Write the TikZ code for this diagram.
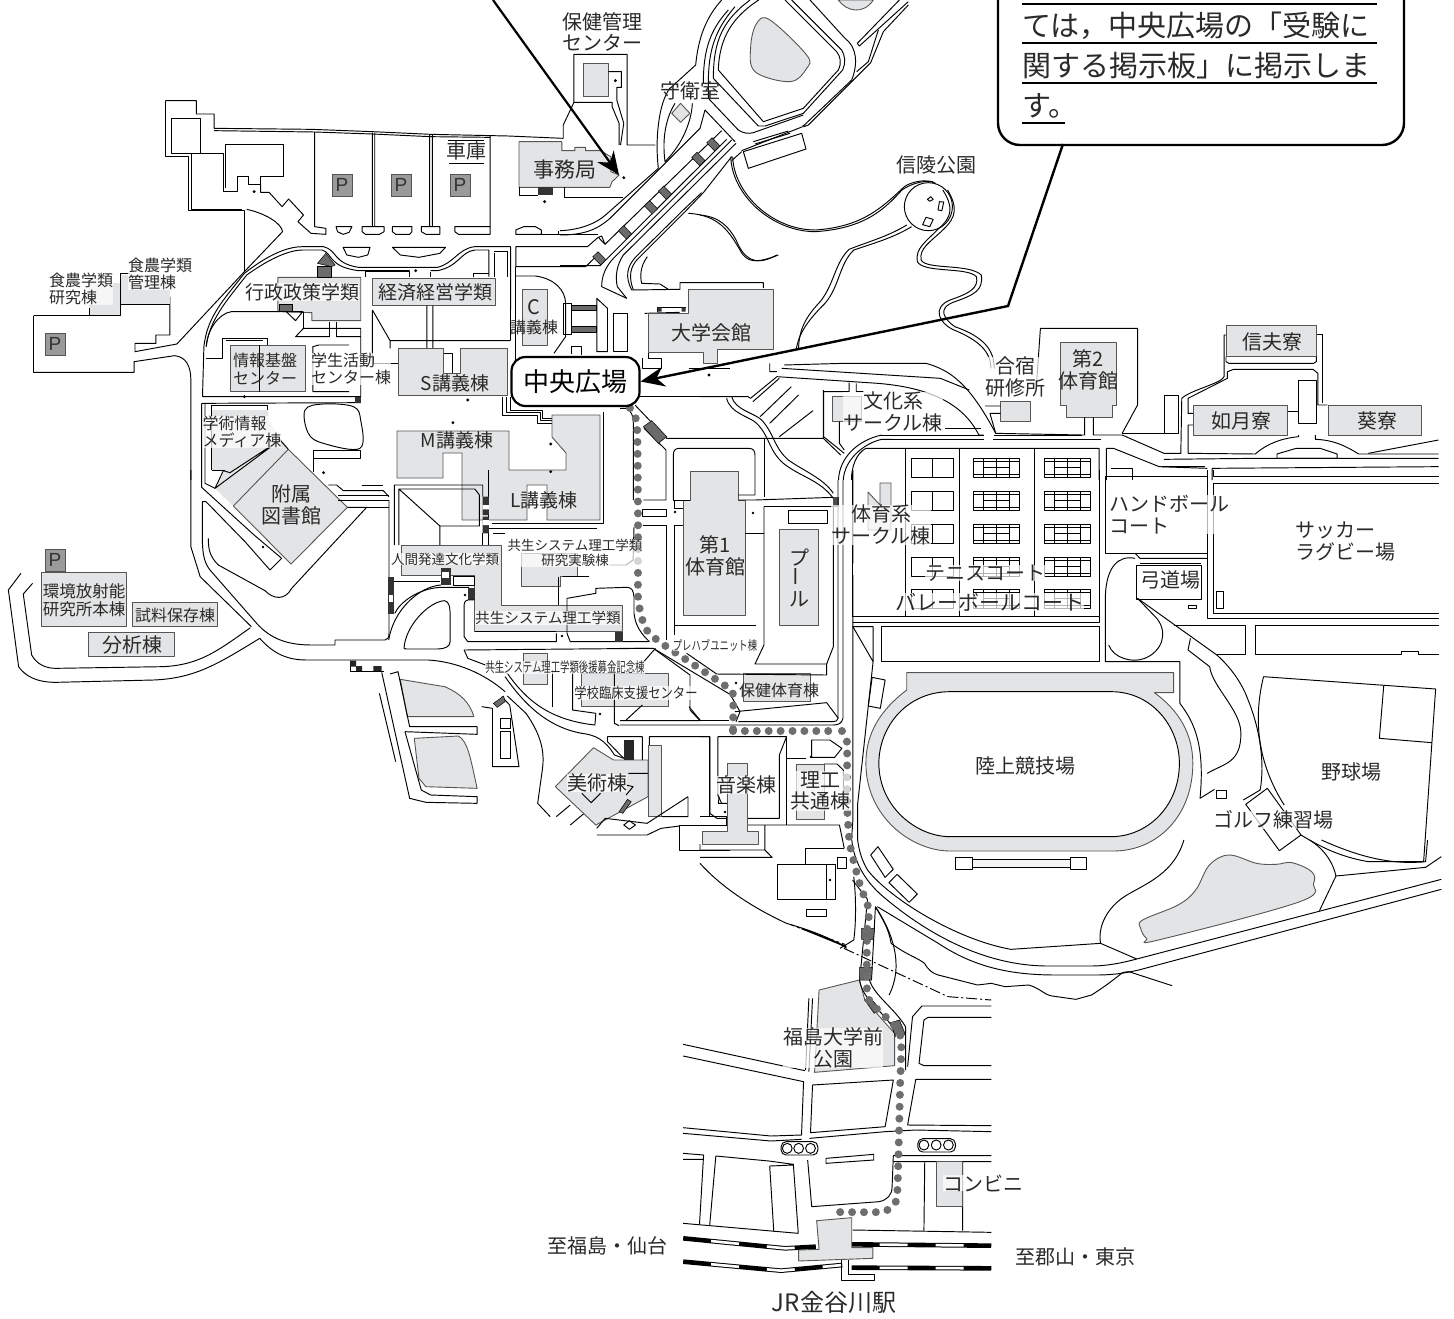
\documentclass[tikz,border=0pt]{standalone}
\usepackage{fontspec}
\usepackage{graphicx}
\usetikzlibrary{arrows.meta}
\newfontfamily\jp{Noto Sans CJK JP}
\setsansfont{Liberation Sans}
\definecolor{bgr}{HTML}{E3E4E5}
\definecolor{dgr}{HTML}{555555}
\definecolor{pgr}{HTML}{9A9A9A}
\definecolor{txt}{HTML}{2A2A2A}
\definecolor{rt}{HTML}{6E6E6E}
\tikzset{
 m/.style={draw=black,line width=.95pt,line join=round},
 bd/.style={draw=dgr,fill=bgr,line width=.9pt,line join=round},
 hat/.style={draw=black,fill=black!58,line width=.5pt},
 pk/.style={draw=dgr,fill=pgr,line width=.8pt},
 lab/.style={font=\jp\fontsize{#1}{\fpeval{#1*1.08}}\selectfont,text=txt,align=center,inner sep=0pt},
 labh/.style={lab=#1,fill=white,fill opacity=.7,text opacity=1},
 zA/.style={x=.4655pt,y=-.33333pt},
 zB/.style={shift={(700,0)},x=.4808pt,y=-.33333pt},
 zC/.style={shift={(0,470)},x=.4655pt,y=-.33333pt},
 zD/.style={shift={(700,470)},x=.4808pt,y=-.33333pt},
 zE/.style={shift={(520,900)},x=.408pt,y=-.33333pt},
 zS/.style={shift={(840,840)},x=.393pt,y=-.33333pt},
 zT/.style={x=.33333pt,y=-.33333pt},
 route/.style={draw=rt,line width=8pt,line cap=round,dash pattern=on 0pt off 11.9pt},
 rail/.style={draw=black,line width=4.6pt},
 railw/.style={draw=white,line width=2.6pt,dash pattern=on 0pt off 28pt on 28pt off 0pt},
}
\begin{document}
\begin{tikzpicture}[x=1pt,y=-1pt]
\useasboundingbox (0,0) rectangle (1454,1318);
\clip (0,0) rectangle (1454,1318);
\fill[white] (0,0) rectangle (1454,1318);

% ---------- Zone A : north-west
\begin{scope}[zA]
\draw[m] (355,302)--(422,302)--(422,342)--(460,342)--(460,385)--(670,388)--(800,395)--(925,403)--(1092,408)--(1210,415);
\draw[m] (460,392)--(676,396)--(800,402)--(925,410)--(1053,412);
\draw[m] (355,302)--(355,468)--(405,468)--(405,632)--(525,632)--(525,815);
\draw[m] (412,460)--(480,460)--(480,575)--(510,575)--(510,530)--(534,530)--(534,553)--(560,553)--(560,528)--(610,528)--(610,433)--(484,433)--(484,565);
\draw[m] (412,460)--(412,628)--(520,628);
\draw[m] (368,356)--(430,356)--(430,460)--(368,460)--cycle;
\draw[m] (560,553)--(560,577)--(578,577)--(606,620)--(620,597)--(652,645)--(640,665)--(668,700)--(700,703)--(700,685)--(676,680)--(676,396);
\draw[m] (800,398)--(800,680) (805,398)--(805,680) (923,405)--(923,680) (929,405)--(929,680) (1053,408)--(1053,703)--(985,703)--(977,695)--(977,680)--(1053,680);
\draw[m] (722,680)--(756,680)--(750,697)--(737,703)--(725,695)--cycle;
\draw[m] (778,680)--(825,680)--(825,695)--(815,703)--(785,703)--(778,695)--cycle;
\draw[m] (843,680)--(885,680)--(885,695)--(880,703)--(850,703)--(843,695)--cycle;
\draw[m] (905,680)--(945,680)--(945,703)--(915,703)--(905,695)--cycle;
\draw[m] (1108,690)--(1125,680)--(1150,680)--(1163,690)--(1163,703)--(1108,703)--cycle;
\draw[m] (962,422)--(1040,422) (965,490)--(1040,490);
\draw[m] (530,628) .. controls (570,640) and (605,670) .. (607,695) -- (525,815);
\draw[m] (380,1032)--(525,815) (380,1032)--(290,1055)--(290,1030)--(335,1030)--(335,1005)--(365,1005)--(365,890);
\fill[bgr] (192,850) rectangle (258,945);
\fill[bgr] (258,825) rectangle (365,912);
\draw[m] (72,947)--(258,947)--(258,820)--(280,820);
\draw[m] (72,947)--(72,1117)--(288,1117)--(288,1085)--(375,1067) .. controls (400,1070) and (410,1100) .. (410,1140)--(410,1440);
\draw[m] (258,912)--(365,912) (192,925)--(192,947);
\draw[m] (435,1190)--(438,1040) .. controls (445,950) and (480,900) .. (525,820) .. controls (580,760) and (620,740) .. (650,740)--(695,740) .. controls (725,750) and (715,790) .. (770,802)--(940,802) .. controls (975,790) and (985,745) .. (1020,740)--(1097,740)--(1097,930);
\draw[m] (443,1040) .. controls (450,960) and (485,905) .. (530,825) .. controls (585,770) and (625,750) .. (650,750)--(692,750) .. controls (715,760) and (705,800) .. (770,812)--(880,812) (925,812)--(940,812) .. controls (985,800) and (990,755) .. (1020,750)--(1050,750)--(1050,830);
\draw[m] (737,742)--(795,742)--(790,765)--(770,772)--(745,765)--cycle;
\draw[m] (843,742)--(957,742)--(945,760)--(900,772)--(860,765)--cycle;
\draw[m] (1062,755)--(1090,755)--(1090,830) (1062,760)--(1062,830);
\draw[m] (1108,740)--(1108,800)--(1258,800)--(1280,770) (1108,740)--(1262,740)--(1285,712);
\draw[m] (1108,703)--(1200,703)--(1200,692) (1163,703)--(1285,703);
\draw[m] (785,830)--(785,815)--(880,815)--(880,832) (925,815)--(925,832) (1018,832)--(1018,820)--(1050,820);
\draw[bd] (597,832)--(775,832)--(775,962)--(670,962)--(670,938)--(597,935)--cycle;
\draw[bd] (800,835)--(1065,835)--(1065,917)--(800,917)--cycle;
\draw[m] (497,935)--(600,935) (497,935) .. controls (470,940) and (445,990) .. (443,1040);
\draw[hat] (600,912)--(628,912)--(628,935)--(600,935)--cycle;
\draw[hat] (682,800)--(712,800)--(712,832)--(682,832)--cycle;
\draw[hat] (682,790)--(700,760)--(720,795)--(712,800)--cycle;
\draw[m] (615,935)--(650,935)--(635,962)--cycle;
\draw[m] (652,935)--(652,985)--(635,1010)--(707,1010) (722,1010)--(775,1010) (650,985)--(775,985)--(775,1190);
\draw[m] (707,965)--(707,1010) (722,965)--(722,1010);
\draw[m] (800,930)--(800,1090) (800,930)--(838,1022)--(838,1045) (838,1022)--(1097,1022) (917,917)--(917,1045) (930,917)--(930,1045);
\draw[m] (800,1090)--(855,1090);
\draw[bd] (855,1045)--(953,1045)--(953,1120)--(990,1120)--(990,1045)--(1090,1045)--(1090,1185)--(855,1185)--cycle;
\draw[m] (953,1060)--(972,1060)--(972,1120);
\draw[m] (442,1075)--(478,1075)--(478,1015)--(575,1015)--(575,1035) (485,1020)--(565,1020);
\draw[bd] (495,1035)--(657,1035)--(657,1175)--(495,1175)--cycle;
\draw[m] (557,1035)--(557,1175);
\draw[m] (672,1175)--(672,1040)--(685,1035)--(750,1035) (672,1175)--(750,1175);
\draw[m] (435,1190)--(775,1190) (433,1210)--(775,1208);
\fill[black!80] (762,1190) rectangle (775,1210);
\draw[bd] (1122,868)--(1175,868)--(1175,1035)--(1122,1035)--cycle;
\draw[m] (1108,828)--(1150,828) .. controls (1190,835) and (1215,870) .. (1215,910)--(1215,1010)--(1190,1060);
\draw[m] (1108,800)--(1108,1190) (1097,930)--(1097,1020);
\draw[m] (1210,910)--(1228,910)--(1228,1002)--(1210,1002)--cycle;
\draw[hat] (1228,915)--(1280,915)--(1280,932)--(1228,932)--cycle;
\draw[hat] (1228,980)--(1280,980)--(1280,997)--(1228,997)--cycle;
\draw[m] (1282,895)--(1305,925)--(1305,1055)--(1282,1055)--cycle;
\draw[m] (1318,940)--(1348,940)--(1348,1055)--(1318,1055)--cycle;
\draw[m] (1228,1062)--(1228,1040)--(1250,1040)--(1250,1065);
\draw[m] (1385,940)--(1460,937);
\draw[m] (1380,1075)--(1380,1105)--(1420,1105)--(1420,1075)--(1392,1075)--(1392,1060);
\draw[m] (1480,1105)--(1568,1105);
\draw[m] (1375,1190)--(1568,1190);
% health centre
\draw[m] (1210,415)--(1210,375)--(1233,307)--(1233,163)--(1347,163)--(1347,435)--(1408,435);
\draw[m] (1233,307)--(1315,307)--(1315,320)--(1330,370)--(1330,435);
\draw[bd] (1253,190)--(1307,190)--(1307,290)--(1253,290)--cycle;
\draw[m] (1307,215)--(1335,215)--(1335,262)--(1325,262)--(1325,300)--(1340,370)--(1333,435);
\draw[bd] (1462,310)--(1482,340)--(1462,367)--(1443,340)--cycle;
\draw[bd] (1115,425)--(1207,425)--(1207,452)--(1235,452)--(1235,442)--(1258,442)--(1258,452)--(1290,452)--(1312,470)--(1312,515)--(1330,525)--(1315,545)--(1310,562)--(1115,562)--cycle;
\draw[m] (1115,562)--(1115,585)--(1155,585) (1212,562)--(1212,592)--(1338,592);
\fill[black!80] (1155,562) rectangle (1188,585);
% stepped passage
\draw[m] (1080,1190)--(1080,1245)--(1155,1245)--(1155,1270)--(1185,1270);
\draw[m] (1097,1190)--(1097,1230)--(1165,1230)--(1165,1255)--(1185,1255);
\draw[m] (1088,1190)--(1088,1238)--(1160,1238)--(1160,1262)--(1185,1262);
\end{scope}

% ---------- entrance road, true-scale sheet from (560,60)
\begin{scope}[shift={(560,60)},zT]
\draw[m] (0,512) .. controls (60,510) and (110,490) .. (140,462) -- (295,325);
\draw[m] (0,525) .. controls (70,525) and (110,510) .. (150,475) -- (420,205) -- (435,150) -- (525,245);
\draw[m] (485,212)--(135,553)--(115,532)--(125,528)--(135,553);
\draw[m] (500,238)--(120,617)--(0,617);
\draw[m] (515,240) -- (165,590) .. controls (135,620) and (125,650) .. (125,680) -- (200,715);
\draw[m] (528,250) -- (190,585) .. controls (170,615) and (165,650) .. (172,680) -- (200,715);
\draw[m] (515,290)--(430,398)--(380,450)--(235,595) .. controls (210,620) and (205,650) .. (220,690);
\draw[m] (425,398)--(375,445)--(228,590) .. controls (200,620) and (195,650) .. (215,690);
\draw[m] (385,460) .. controls (480,465) and (510,520) .. (540,570) .. controls (560,610) and (590,610) .. (655,585);
\draw[m] (262,590) .. controls (240,620) and (240,650) .. (245,670) -- (300,672) -- (325,688);
\draw[m] (215,690)--(360,688)--(360,668)--(610,668)--(610,684);
\draw[m] (293,755)--(293,742)--(377,742);
\fill[black!80] (293,742) rectangle (305,755) (365,742) rectangle (377,755);
\draw[m] (330,84) .. controls (295,130) and (285,240) .. (295,325);
\draw[m] (315,305) .. controls (305,230) and (320,170) .. (345,130);
\draw[m] (315,305) .. controls (370,250) and (395,180) .. (397,130);
\foreach \cx/\cy in {460/253,415/297,315/398,273/442,195/517,118/595}{
 \draw[hat] (\cx+4,\cy+20)--(\cx+19.8,\cy+4.5)--(\cx-4,\cy-20)--(\cx-19.8,\cy-4.5)--cycle;
}
\end{scope}

% ---------- arena north, true-scale sheet from (660,0)
\begin{scope}[shift={(660,0)},zT]
\draw[bd] plot[smooth cycle,tension=.6] coordinates {(290,70)(330,60)(440,165)(440,205)(390,245)(285,215)(272,140)};
\draw[bd] (535,0) .. controls (560,35) and (610,45) .. (640,0)--cycle;
\draw[m] (185,0) .. controls (140,50) and (115,110) .. (107,195) -- (30,265);
\draw[m] (205,30) .. controls (150,90) and (130,150) .. (130,250);
\draw[m] (225,20) .. controls (165,90) and (145,150) .. (145,250) -- (145,295) -- (235,390) .. controls (250,400) and (265,402) .. (280,398) -- (430,345);
\draw[m] (270,0) .. controls (190,60) and (160,120) .. (160,235) -- (295,378) -- (315,378) -- (430,340) -- (548,210) .. controls (558,190) and (555,165) .. (545,150) -- (395,0);
\draw[m] (296,0) .. controls (220,50) and (178,110) .. (175,210) -- (310,365) -- (430,325) -- (535,210) .. controls (545,190) and (542,170) .. (530,155) -- (375,0);
\draw[m] (450,0) -- (555,115) .. controls (590,140) and (595,190) .. (575,240) -- (430,378);
\draw[m] (718,0)--(592,130)--(598,138)--(745,5);
\draw[m] (745,15)--(670,95)--(632,188)--(445,375)--(432,380)--(428,376);
\draw[m] (655,90)--(625,185)--(590,215);
\draw[m] (250,455)--(425,400)--(438,447)--(265,505)--cycle;
\draw[m] (280,425)--(385,393) (285,432)--(390,400);
\draw[m] (245,452)--(428,380) (245,455)--(215,482);
\end{scope}

% grey block of M and L lecture halls and main hall
\draw[bd] (552,415)--(600,415)--(600,520)--(547,520)--(547,485)--(527,485)--(527,520)--(462,520)--(462,453)--(443,453)--(443,478)--(397,478)--(397,431)--(509,431)--(509,470)--(566,470)--(566,453)--(552,437)--cycle;
\draw[m] (603,412)--(603,523)--(492,523);
\draw[bd] (648,313)--(688,313)--(688,289)--(773,289)--(773,349)--(717,349)--(717,363)--(703,363)--(703,352)--(648,352)--cycle;

% ---------- library, true-scale sheet from (190,400)
\begin{scope}[shift={(190,400)},zT]
\draw[bd,draw=none] (65,30)--(235,30)--(235,60)--(295,148)--(130,318)--(75,265)--(105,210)--(65,210)--cycle;
\draw[m] (65,210)--(65,15)--(232,15)--(232,30) (65,210)--(105,210);
\draw[bd] (295,148)--(472,322)--(303,492)--(130,318)--cycle;
\draw[m] (270,120)--(75,265)--(100,212)--(120,218)--cycle;
\draw[m] (270,120)--(295,148);
\draw[m] (35,10)--(35,262)--(190,403)--(275,475)--(240,510)--(165,425)--(48,305)--(37,305)--(37,420) .. controls (38,470) and (45,490) .. (60,510) -- (200,670) .. controls (240,715) and (290,735) .. (365,735)--(435,735)--(435,720)--(585,720) .. controls (593,720) and (597,712) .. (597,700)--(597,300);
\draw[m] (45,10)--(45,250)--(75,265);
\draw[m] (55,415) .. controls (55,450) and (60,470) .. (85,495) -- (225,572) .. controls (250,598) and (285,602) .. (305,565) -- (530,322)--(472,322);
\draw[m] (530,322)--(597,322);
\draw[m] (415,255)--(440,255)--(460,272)--(580,272)--(597,290);
\draw[m] (445,287)--(597,287) (445,300)--(597,300) (515,255)--(578,255);
\draw[m] (370,215)--(370,150)--(512,150)--(512,175)--(370,175);
\draw[m] plot[smooth cycle,tension=.6] coordinates {(345,30)(400,12)(490,20)(512,60)(510,145)(400,130)(355,100)};
\end{scope}

% ---------- Zone C : south-west
\begin{scope}[zC]
\draw[m] (410,0)--(410,230)--(430,320)--(540,470);
\draw[m] (45,310)--(18,360)--(40,590) .. controls (55,620) and (80,637) .. (120,637)--(330,630) .. controls (420,625) and (470,580) .. (558,505);
\draw[m] (70,340)--(50,372)--(68,555) .. controls (80,585) and (100,595) .. (120,595)--(350,590) .. controls (430,585) and (470,540) .. (538,473);
\draw[m] (558,505) .. controls (590,555) and (620,570) .. (660,570)--(920,570) .. controls (980,575) and (1040,610) .. (1085,665);
% box and Human dev
\draw[m] (847,225)--(847,45)--(1037,45)--(1037,80) (857,225)--(857,57)--(1020,57)--(1030,75)--(1030,168)--(945,168)--(857,57) (945,168)--(945,225);
\draw[m] (1050,0)--(1050,225) (1037,190)--(1037,225);
\fill[black!80] (1037,80) rectangle (1050,135) (1037,140) rectangle (1050,190);
\fill[white] (1037,105) rectangle (1050,118) (1037,150) rectangle (1050,165);
\draw[bd] (862,225)--(1078,225)--(1078,405)--(1338,405)--(1338,485)--(1020,485)--(1020,315)--(862,315)--cycle;
\draw[m] (1060,190)--(1085,190) (1050,175)--(1282,175);
\draw[bd] (1120,250)--(1240,250)--(1240,320)--(1205,320)--(1205,350)--(1120,350)--cycle;
\fill[black!80] (947,295) rectangle (968,345);
\fill[white] (950,305) rectangle (965,325);
\draw[m] (975,318)--(1020,318)--(1020,345)--(975,345)--cycle;
\draw[m] (835,510) .. controls (845,420) and (900,350) .. (947,345);
\draw[m] (848,430) .. controls (860,395) and (900,355) .. (947,352)--(1008,352);
\draw[m] (868,535) .. controls (870,470) and (920,395) .. (955,392) .. controls (965,395) and (967,410) .. (967,440)--(967,515) .. controls (967,530) and (955,537) .. (940,537)--(880,537) .. controls (872,537) and (868,537) .. (868,535)--cycle;
\fill[black!80] (1005,355) rectangle (1020,390);
\fill[black!80] (833,320) rectangle (847,432);
\fill[white] (836,375) rectangle (845,395);
\draw[m] (847,335)--(945,335);
\draw[m] (1018,390)--(1005,390) .. controls (998,392) and (997,400) .. (997,410)--(997,500)--(1005,515)--(1195,515)--(1195,490);
\draw[m] (1020,485)--(1195,485);
\draw[m] (1218,490)--(1218,385)--(1280,370)--(1280,355)--(1345,352) .. controls (1358,352) and (1360,360) .. (1362,380)--(1362,430) .. controls (1365,470) and (1380,495) .. (1395,515);
\draw[m] (1218,490)--(1225,515)--(1395,515);
\fill[black!80] (1322,485) rectangle (1338,515);
\draw[m] (1200,320)--(1200,405) (1210,320)--(1265,320);
\draw[m] (1310,285)--(1345,285)--(1360,270)--(1362,170);
\draw[m] (997,540)--(1395,535);
\draw[m] (997,540)--(1005,565)--(1090,610) .. controls (1130,690) and (1180,750) .. (1278,765)--(1280,730)--(1230,720)--(1230,590);
\draw[m] (1085,620) .. controls (1120,690) and (1170,770) .. (1250,790) .. controls (1280,795) and (1300,810) .. (1320,855)--(1340,865);
\draw[m] (1187,600)--(1187,710);
\draw[bd] (1125,550)--(1175,550)--(1175,642)--(1125,642)--cycle;
\draw[bd] (1250,610)--(1435,610)--(1435,710)--(1250,710)--cycle;
\draw[m] (1320,590)--(1320,760)--(1330,767);
\draw[m] (1408,535)--(1380,580) (1345,750)--(1380,705) (1480,710)--(1505,752);
% parking and ponds
\draw[m] (752,572)--(752,603)--(825,603);
\fill[black!85] (752,572) rectangle (765,590) (765,588) rectangle (778,603) (802,588) rectangle (820,603);
\draw[bd] (860,628)--(955,650) .. controls (990,670) and (1010,700) .. (1018,740)--(875,740)--cycle;
\draw[bd] (890,805)--(985,798) .. controls (1005,815) and (1010,860) .. (1025,955)--(915,950)--(900,925)--cycle;
\draw[m] (820,607)--(880,985)--(915,997)--(1025,1000);
\draw[m] (838,612)--(855,605)--(880,770)--(1025,770);
\draw[m] (870,785)--(1025,793)--(1025,770);
\draw[m] (870,785)--(905,960)--(925,975)--(1025,980)--(1025,1000);
\draw[m] (815,670)--(850,875);
\draw[m] (1035,710)--(1058,715)--(1058,890)--(1115,890)--(1095,705)--(1078,680);
\draw[m] (1075,745)--(1097,745)--(1097,775)--(1075,775)--cycle;
\draw[m] (1075,783)--(1097,783)--(1097,865)--(1075,865)--cycle;
\draw[hat] (1060,700)--(1082,678)--(1085,695)--(1068,712)--cycle;
\draw[m] (1090,678)--(1130,730) .. controls (1165,800) and (1170,850) .. (1165,900)--(1155,1000)--(1182,1040);
\draw[m] (1195,1040)--(1225,1005) (1225,1065)--(1255,1030);
% art
\draw[bd] (1193,950)--(1275,833)--(1318,870)--(1392,870)--(1392,980)--(1280,1065)--cycle;
\draw[bd] (1392,825)--(1422,825)--(1422,1040)--(1392,1040)--cycle;
\draw[m] (1250,970)--(1270,998)--(1290,970) (1350,910)--(1392,910) (1345,945)--(1360,950)--(1345,975);
\draw[hat] (1330,1025)--(1348,988)--(1356,995)--(1338,1030)--cycle;
\fill[black!85] (1340,810) rectangle (1362,870);
\draw[m] (1305,800)--(1380,800) (1305,800)--(1305,815)--(1340,865) (1380,800)--(1380,870);
\draw[m] (1395,825)--(1395,800)--(1525,800)--(1525,1030)--(1540,1045)--(1568,1045);
\draw[m] (1478,980)--(1478,1040)--(1422,1040) (1478,980)--(1390,1060)--(1300,1045)--(1282,1075);
\draw[m] (1340,1065)--(1352,1052)--(1365,1065)--(1352,1078)--cycle;
\draw[m] (1282,1095)--(1390,1095)--(1420,1075)--(1460,1068);
\draw[m] (1460,1065)--(1568,1065) (1460,1065)--(1460,1140)--(1568,1140);
% western annex
\draw[bd] (88,307)--(272,307)--(272,470)--(88,470)--cycle;
\draw[bd] (284,397)--(467,397)--(467,470)--(284,470)--cycle;
\draw[bd] (190,487)--(374,487)--(374,560)--(190,560)--cycle;
\end{scope}

% ---------- first gymnasium, true-scale sheet from (620,390)
\begin{scope}[shift={(620,390)},zT]
\draw[bd] (210,243)--(355,243)--(355,330)--(375,330)--(375,677)--(190,677)--(190,330)--(210,330)--cycle;
\draw[m] (160,330)--(160,195) .. controls (160,182) and (165,175) .. (178,175)--(385,175) .. controls (400,175) and (405,182) .. (405,195)--(405,315)--(355,315);
\draw[m] (160,330)--(210,330);
\draw[m] (0,55)--(18,55) .. controls (35,60) and (40,80) .. (40,105)--(40,330);
\draw[m] (45,45)--(140,145)--(610,145)--(610,0) (610,145)--(662,195);
\draw[m] (72,115)--(138,180)--(138,330)--(70,330);
\draw[m] (68,357)--(138,357)--(138,378)--(68,378)--cycle;
\draw[m] (70,407)--(138,407)--(138,750);
\draw[m] (162,330)--(162,355)--(190,355) (162,735)--(162,405)--(190,405);
\draw[m] (162,705)--(408,705) (375,430)--(432,430);
\draw[m] (405,330)--(640,322) (355,330)--(405,330);
\draw[m] (432,145)--(432,322) (432,350)--(640,350);
\draw[m] (432,350)--(432,765)--(405,822)--(620,822)--(640,770)--(640,350);
\fill[black!70] (640,322) rectangle (656,350);
\draw[m] (505,360)--(622,360)--(622,400)--(505,400)--cycle;
\draw[bd] (478,417)--(594,417)--(594,707)--(478,707)--cycle;
\draw[m] (654,270)--(654,985) .. controls (652,992) and (648,995) .. (640,995)--(355,995);
\draw[m] (669,270)--(669,985) .. controls (665,1000) and (655,1005) .. (640,1005)--(0,1005);
\draw[m] (320,25) .. controls (330,70) and (390,80) .. (410,100) .. controls (450,140) and (445,180) .. (490,220) .. controls (540,260) and (600,270) .. (640,325);
\draw[m] (335,20) .. controls (345,60) and (405,70) .. (425,90) .. controls (465,135) and (460,170) .. (505,210) .. controls (555,245) and (610,265) .. (640,310);
\draw[hat] (70,110)--(95,92)--(140,140)--(115,160)--cycle;
\draw[bd] (370,850)--(570,850)--(570,935)--(370,935)--cycle;
\draw[m] (345,965)--(620,938)--(655,985);
\draw[m] (348,995)--(360,965)--(330,912);
\draw[m] (105,778)--(328,912);
\draw[m] (200,790)--(290,852)--(620,855)--(620,822);
\draw[m] (0,775)--(100,775)--(210,855)--(210,960)--(240,992)--(0,992);
\draw[m] (240,992)--(328,992);
\end{scope}

% ---------- Zone B : north-east
\begin{scope}[zB]
\draw[m] (68,470) .. controls (70,580) and (150,690) .. (240,690) .. controls (340,680) and (380,620) .. (425,560) .. controls (440,545) and (470,535) .. (490,550) ;
\draw[m] (64,470) .. controls (66,585) and (150,695) .. (240,695) .. controls (345,685) and (385,625) .. (420,570) .. controls (435,555) and (460,540) .. (485,545);
\draw[m] (475,620) ellipse (50 and 72);
\draw[m] (515,570) .. controls (535,620) and (535,650) .. (505,690) .. controls (480,725) and (455,745) .. (460,780) .. controls (470,810) and (560,790) .. (585,825) .. controls (590,870) and (570,885) .. (530,905) .. controls (490,925) and (510,960) .. (530,980) .. controls (590,1010) and (612,1050) .. (612,1105);
\draw[m] (505,570) .. controls (527,620) and (525,650) .. (497,685) .. controls (470,725) and (447,745) .. (452,785) .. controls (465,820) and (555,800) .. (575,830) .. controls (580,865) and (560,880) .. (520,900) .. controls (480,925) and (500,970) .. (525,988) .. controls (580,1020) and (605,1055) .. (605,1105);
\draw[m] (440,680) .. controls (400,715) and (360,730) .. (320,750) .. controls (290,790) and (290,860) .. (260,910) .. controls (225,960) and (205,1000) .. (200,1050);
\draw[m] (430,675) .. controls (390,710) and (350,725) .. (310,748) .. controls (280,790) and (280,850) .. (250,905) .. controls (220,950) and (205,990) .. (205,1050);
\draw[m] (0,645) .. controls (40,650) and (60,680) .. (75,720) .. controls (90,770) and (110,805) .. (160,765);
\draw[m] (473,598)--(480,590)--(485,598)--(478,604)--cycle (498,605)--(507,606)--(503,632)--(495,630)--cycle (470,652)--(485,658)--(478,680)--(463,674)--cycle;
\draw[m] (145,1090)--(145,1115)--(160,1115) (160,1130)--(370,1150) .. controls (450,1160) and (540,1190) .. (580,1305)--(590,1305);
\draw[m] (175,1095)--(300,1090)--(470,1090) .. controls (520,1110) and (560,1150) .. (615,1300);
\draw[m] (170,1105)--(500,1135)--(560,1170);
\draw[m] (0,1190)--(100,1190)--(105,1195)--(160,1130);
\draw[m] (165,1135)--(110,1205) (190,1160)--(125,1250) (205,1185)--(145,1270) (235,1232)--(165,1310);
\draw[bd] (275,1190)--(335,1190)--(335,1265)--(275,1265)--cycle;
\draw[m] (257,1175)--(310,1175)--(310,1148) (325,1150)--(325,1175)--(340,1175) (257,1175)--(257,1310)--(300,1360) (290,1265)--(290,1330)--(300,1350);
\draw[m] (510,1285)--(585,1285);
\draw[m] (708,985)--(700,1150) (708,985)--(910,985)--(910,1215)--(878,1300);
\draw[bd] (750,1027)--(867,1027)--(867,1215)--(857,1215)--(857,1252)--(762,1252)--(762,1215)--(750,1215)--cycle;
\draw[bd] (625,1205)--(687,1205)--(687,1265)--(625,1265)--cycle;
\draw[m] (593,1218)--(625,1218) (603,1240)--(625,1240) (603,1240)--(615,1300)--(795,1305)--(800,1305)--(800,1252) (818,1252)--(818,1305)--(878,1305);
\draw[m] (372,1305)--(590,1305) (612,1305)--(795,1305);
\draw[m] (378,1305) .. controls (330,1320) and (290,1370) .. (288,1440);
\draw[m] (400,1318)--(378,1318) .. controls (340,1330) and (300,1380) .. (298,1440);
\draw[m] (400,1318)--(590,1318)  (610,1318)--(835,1318);
\draw[m] (345,1345)--(830,1345)--(830,1440) (345,1345) .. controls (325,1360) and (315,1400) .. (315,1440);
\draw[m] (427,1345)--(427,1440) (540,1345)--(540,1440) (695,1345)--(695,1440);
\draw[m] (878,1305)--(965,1360)--(1000,1360)--(1002,1195) .. controls (1020,1170) and (1085,1150) .. (1090,1130)--(1090,1005)--(1094,1005);
\draw[m] (878,1300)--(965,1300);
\draw[m] (966,1185)--(995,1185)--(995,1300)--(966,1300)--cycle;
\draw[m] (845,1345)--(860,1345)--(955,1400)--(1055,1405) (845,1345)--(845,1440);
\draw[m] (1015,1360)--(1015,1275)--(1025,1275) (1025,1240)--(1015,1240)--(1015,1195)--(1097,1135)--(1097,1115)--(1110,1108)--(1275,1108)--(1285,1120)--(1285,1215)--(1305,1215);
\draw[m] (1295,1005)--(1295,1210) (1282,1003)--(1295,1003);
\draw[bd] (1094,976)--(1282,976)--(1282,1070)--(1094,1070)--cycle;
\draw[m] (1094,1070)--(1094,1085)--(1100,1090)--(1276,1090)--(1282,1085)--(1282,1070);
\draw[bd] (1027,1215)--(1222,1215)--(1222,1305)--(1027,1305)--cycle;
\draw[bd] (1307,1215)--(1500,1215)--(1500,1305)--(1307,1305)--cycle;
\draw[m] (1245,1140)--(1282,1140)--(1282,1270)--(1245,1270)--cycle;
\draw[m] (1222,1235)--(1245,1235);
\draw[m] (1015,1360)--(1155,1362) .. controls (1180,1330) and (1210,1315) .. (1245,1310)--(1245,1305) (1280,1305)--(1280,1318) .. controls (1320,1320) and (1345,1340) .. (1370,1362)--(1536,1362);
\draw[m] (1390,1360)--(1536,1320);
\draw[m] (1200,1362)--(1240,1345)--(1290,1345)--(1325,1362)--(1325,1375)--(1200,1375)--cycle;
\draw[m] (965,1378)--(1155,1375)--(1536,1375);
\draw[m] (960,1400)--(1050,1400) (1065,1405)--(1536,1400) (1065,1405)--(1065,1440);
\draw[m] (855,1405)--(900,1405)--(900,1440);
\end{scope}

% tennis and volleyball courts
\foreach \yy in {458,491,524,557,589}{
 \draw[m] (911,\yy) rectangle (953,\yy+19);
 \draw[m] (932,\yy)--(932,\yy+19);
 \foreach \xx in {973,1044}{
  \draw[m] (\xx,\yy) rectangle (\xx+46,\yy+19);
  \draw[m] (\xx,\yy+3)--(\xx+46,\yy+3) (\xx,\yy+16)--(\xx+46,\yy+16) (\xx+10,\yy)--(\xx+10,\yy+19) (\xx+36,\yy)--(\xx+36,\yy+19) (\xx+23,\yy)--(\xx+23,\yy+19) (\xx+10,\yy+9.5)--(\xx+36,\yy+9.5);
 }
}
\draw[bd] (880,505)--(880,483)--(891,483)--(891,530)--(868,530)--(868,492)--cycle;

% ---------- Zone D : south-east
\begin{scope}[zD]
\draw[m] (318,0)--(318,280) (318,315)--(318,1050)--(315,1110);
\draw[m] (318,440)--(830,440)--(830,0) (318,0)--(318,440);
\draw[m] (427,0)--(427,440) (540,0)--(540,440) (695,0)--(695,440);
\draw[m] (318,457)--(830,457)--(830,440);
\draw[m] (318,470)--(360,470)--(360,575)--cycle;
\draw[m] (377,470)--(830,470)--(830,575)--(377,575)--cycle;
\draw[m] (360,575)--(328,1000)--(328,1110);
\draw[m] (0,800)--(20,800)--(20,1040) (37,800)--(180,800)--(165,855)--(165,1045)--(100,1045) (37,800)--(37,975)--(45,1000);
\draw[m] (40,980)--(38,1000)--(57,1000);
\draw[m] (0,1040)--(55,1040)--(55,1065)--(0,1065);
\draw[bd] (57,880)--(98,880)--(98,1085)--(122,1085)--(122,1122)--(5,1122)--(5,1085)--(57,1085)--cycle;
\draw[m] (100,1065)--(290,1065)--(300,1135);
\draw[m] (135,1065)--(135,1140)--(0,1140)--(0,1122) (135,1140)--(150,1162)--(0,1162);
\draw[m] (180,800)--(180,1065) (180,865)--(220,865);
\draw[m] (232,810)--(270,810)--(295,835)--(280,862)--(232,862)--cycle;
\draw[bd] (200,882)--(258,882)--(258,1048)--(200,1048)--cycle;
\draw[m] (258,882)--(285,882)--(298,900)--(298,1000);
\draw[m] (220,1185)--(220,1135)--(300,1135);
\draw[m] (162,1183)--(262,1183)--(262,1287)--(162,1287)--cycle;
\draw[m] (262,1183)--(282,1183)--(282,1287)--(262,1287);
\draw[m] (285,1163)--(305,1163)--(305,1195)--(285,1195)--cycle;
\draw[m] (222,1317)--(262,1317)--(262,1338)--(222,1338)--cycle;
\draw[m] (0,1180) .. controls (50,1260) and (120,1320) .. (180,1360) .. controls (240,1385) and (280,1410) .. (305,1435);
\draw[m,dashed] (190,1365)--(305,1425);
% running track
\draw[bd] (430,660) .. controls (375,720) and (345,790) .. (345,880) .. controls (345,1040) and (440,1143) .. (520,1143) -- (860,1143) .. controls (950,1143) and (1025,1040) .. (1025,880) .. controls (1025,790) and (995,720) .. (945,668) -- (985,668) -- (985,608) -- (430,608) -- cycle;
\draw[m,fill=white] (520,665) .. controls (430,665) and (372,770) .. (372,880) .. controls (372,1010) and (450,1100) .. (520,1100) -- (855,1100) .. controls (930,1100) and (997,1010) .. (997,880) .. controls (997,770) and (940,665) .. (855,665) -- cycle;
\draw[m,fill=bgr!40] (566,1168) rectangle (770,1193);
\draw[m,fill=white] (532,1163) rectangle (566,1197) (770,1163) rectangle (804,1197);
\draw[m] (358,622)--(385,630)--(375,715)--(350,708)--cycle;
\draw[m] (370,1130)--(402,1198)--(385,1222)--(355,1155)--cycle;
\draw[m] (410,1213)--(452,1272)--(435,1297)--(393,1238)--cycle;
% handball, soccer
\draw[m] (843,20)--(1055,20)--(1055,250)--(843,250)--cycle;
\draw[m] (845,0)--(845,20) (1055,0)--(1055,20) (1067,0)--(1067,20)--(1536,20) (1067,40)--(1536,40) (1067,40)--(1067,430)--(1536,430) (1055,250)--(1055,445)--(1536,445);
\draw[m] (1075,365)--(1088,365)--(1088,415)--(1075,415)--cycle;
\draw[m] (905,250)--(915,265)--(1055,265);
\draw[m] (905,265) .. controls (870,255) and (845,290) .. (843,380)--(843,575)--(998,575)--(998,700) .. controls (1030,760) and (1050,830) .. (1040,985)--(1070,958);
\draw[m] (908,285)--(1043,285)--(1043,388)--(908,388)--cycle;
\draw[m] (915,280)--(1043,280);
\draw[m] (1015,405)--(1032,405)--(1032,414)--(1015,414)--cycle;
\draw[m] (850,525) .. controls (860,565) and (900,580) .. (925,565) .. controls (960,545) and (975,490) .. (950,445)--(910,385);
\draw[m] (910,385)--(1075,555) .. controls (1110,600) and (1130,650) .. (1140,690) .. controls (1165,780) and (1175,880) .. (1165,960)--(1130,990);
\draw[m] (985,465)--(1135,465)--(1135,553)--(1075,553);
\draw[m] (1155,465)--(1536,465) (1155,465)--(1155,553)--(1458,553)--(1458,545)--(1495,545)--(1495,553)--(1536,553);
\draw[m] (1020,505)--(1015,540)--(1060,590) .. controls (1065,650) and (1125,720) .. (1125,790) .. controls (1125,880) and (1090,880) .. (1055,910);
\draw[m] (1172,620)--(1530,657)--(1505,1175)--(1390,1175) .. controls (1330,1160) and (1290,1130) .. (1250,1095);
\draw[m] (1172,620) .. controls (1150,750) and (1160,880) .. (1215,1005);
\draw[m] (1422,648)--(1413,805)--(1522,818);
\draw[m,fill=white] (1180,955)--(1250,1095)--(1205,1142)--(1135,1003)--cycle;
\draw[m] (1075,960)--(1095,960)--(1095,985)--(1075,985)--cycle;
\end{scope}

% ---------- lake and south-east roads, sheet from (840,840)
\begin{scope}[zS]
\draw[bd] plot[smooth cycle,tension=.6] coordinates {(770,240)(860,195)(905,150)(940,75)(990,45)(1060,70)(1110,73)(1150,68)(1200,95)(1205,130)(1170,185)(810,300)(780,295)(765,265)};
\draw[m] (875,0) .. controls (850,100) and (780,130) .. (730,165) .. controls (680,200) and (655,260) .. (663,310) -- (435,328) .. controls (300,300) and (130,180) .. (70,90) .. controls (55,60) and (48,30) .. (45,0);
\draw[m] (30,0) .. controls (35,60) and (60,120) .. (110,170) .. controls (200,260) and (350,378) .. (530,378) -- (640,378) .. controls (680,378) and (720,368) .. (755,357) -- (1530,118);
\draw[m] (95,200) -- (250,310) .. controls (340,380) and (430,405) .. (550,405) -- (650,405) .. controls (700,405) and (730,398) .. (760,390) -- (1530,148);
\draw[m] (663,310)--(755,357);
\draw[m] (1220,212)--(1262,108)--(1490,82)--(1530,50);
\draw[m] (1262,108) .. controls (1255,70) and (1235,30) .. (1195,0);
\draw[m] (1225,0) .. controls (1320,50) and (1400,75) .. (1490,65)--(1495,0);
\draw[m] (90,200) .. controls (110,240) and (125,270) .. (130,310) .. controls (170,345) and (200,355) .. (215,370) .. controls (225,390) and (235,400) .. (250,405) -- (350,435) -- (385,430) -- (420,440) -- (480,435) .. controls (510,445) and (520,465) .. (540,468) -- (600,478) -- (640,465) .. controls (680,435) and (700,415) .. (720,397) -- (735,395) -- (845,437);
\draw[m] (90,200) .. controls (130,270) and (165,370) .. (125,465);
\draw[m,dash pattern=on 11pt off 3pt on 2pt off 3pt] (10,325)--(275,470)--(385,480);
\draw[m] (35,110) .. controls (42,180) and (40,260) .. (35,300)--(0,325);
\draw[m] (32,120)--(70,178)--(50,420);
\draw[m] (90,203)--(80,420);
\draw[hat] (55,265)--(88,265)--(85,298)--(55,298)--cycle;
\draw[hat] (50,382)--(82,382)--(80,420)--(50,420)--cycle;
\end{scope}

% ---------- Zone E : south
\begin{scope}[zE]
\draw[bd] (733,270)--(832,240)--(845,300)--(918,400)--(918,497)--(722,517)--cycle;
\draw[line width=1.6pt] (690,85)--(800,140);
\draw[m] (855,230) .. controls (860,280) and (915,320) .. (945,380)--(945,510);
\draw[m] (832,240) .. controls (840,310) and (915,350) .. (920,410);
\draw[hat] (845,300)--(860,295)--(880,325)--(868,340)--cycle;
\draw[hat] (908,368)--(930,360)--(945,405)--(918,402)--cycle;
\draw[m] (708,295)--(700,510) (717,295)--(708,515);
% streets
\draw[m] (400,433)--(698,512);
\draw[m] (400,468)--(695,545)--(690,705)--(615,708)--(400,683);
\draw[m] (400,700)--(615,723)--(690,718);
\draw[m] (717,555)--(915,540)--(895,680)--(712,698)--cycle;
\draw[m] (710,715)--(895,695)--(970,690)--(1155,695);
\draw[m] (950,500)--(962,350)--(985,318)--(1155,318);
\draw[m] (1155,352)--(1000,352)--(990,360)--(978,490)--(990,497)--(1155,497);
\draw[m] (1155,538)--(970,538)--(950,675)--(1155,677);
\draw[m] (400,760)--(450,765)--(440,972) (400,778)--(448,778);
\draw[m] (480,768)--(610,783)--(670,793)--(682,1000) (480,768)--(465,975) (612,798)--(622,995) (612,798)--(670,795);
\draw[m] (400,970)--(682,1000);
\draw[m] (705,780)--(715,920)--(880,905) .. controls (900,900) and (912,885) .. (912,860)--(915,767)--(1155,767);
\draw[m] (915,785)--(1155,785) (992,785)--(990,992) (1085,785)--(1085,992);
\draw[bd] (1021,785)--(1085,785)--(1085,918)--(1021,918)--cycle;
\draw[m] (815,990)--(1155,997);
\draw[m] (750,775)--(867,763)--(867,780)--(750,790)--cycle;
% traffic rings
\draw[m,rounded corners=5pt] (640,725) rectangle (730,765);
\draw[m] (655,745) ellipse (12 and 15) (683,745) ellipse (12 and 15) (712,745) ellipse (12 and 15);
\draw[m,rounded corners=5pt] (975,716) rectangle (1067,756);
\draw[m] (990,735) ellipse (12 and 15) (1020,735) ellipse (12 and 15) (1050,735) ellipse (12 and 15);
% rails
\draw[rail] (400,1015)--(650,1045)--(725,1040) (813,1033)--(1155,1037);
\draw[railw] (400,1015)--(650,1045)--(725,1040);
\draw[railw] (813,1033)--(1155,1037);
\draw[rail] (400,1085)--(640,1112)--(790,1095) (813,1103)--(1155,1105);
\draw[railw] (400,1085)--(640,1112)--(790,1095);
\draw[railw] (813,1103)--(1155,1105);
\draw[bd] (727,962)--(813,953)--(813,1043)--(865,1043)--(865,1075)--(683,1083)--(683,1050)--(733,1048)--cycle;
\draw[m] (787,1080)--(787,1140)--(870,1140)--(870,1122)--(805,1122)--(805,1080);
\end{scope}

% P marks
\foreach \px/\py/\pn in {333/174/pa,392/174/pb,451/174/pc,46/333/pd,46/549/pe}{
 \node[pk,minimum width=20pt,minimum height=22pt,inner sep=0pt,font=\sffamily\fontsize{19}{19}\selectfont,text=black!80] (\pn) at (\px+9,\py+11) {P};
}

% small door marks
\begin{scope}[zA]
\foreach \a/\b in {546/575,1170/605,1340/533,1322/242,893/812,525/1190,1005/1200,973/1268,1183/1332,1183/1415,695/1418,1523/1125}{\fill (\a,\b) circle (1.6pt and 1.6pt);}
\end{scope}
\fill (263,547) circle (1.4pt) (562,636) circle (1.4pt) (600,714) circle (1.4pt) (675,512) circle (1.4pt) (465,595) circle (1.4pt) (811,757) circle (1.4pt) (725,812) circle (1.4pt) (830,880) circle (1.4pt) (753,513) circle (1.4pt) (736,683) circle (1.4pt);

% walking route
\draw[route] plot[smooth,tension=.35] coordinates {(630,408)(637,425)(638,520)(638,597)(640,610)(645,628)(657,640)(667,647)(727,687)(733,695)(733,731)};
\draw[route] (733,731)--(835,731);
\draw[route] plot[smooth,tension=.35] coordinates {(842,731)(847,742)(847,803)(850,845)(860,885)(869,910)(867,933)(867,990)(871,1003)(891,1022)(901,1038)(900,1090)(899,1133)(897,1197)(891,1207)(881,1212)(832,1212)};

% callout
\draw[line width=2.4pt,fill=white,rounded corners=22pt] (998,-60) rectangle (1404,145);
\foreach \uy in {4,43,83}{\draw[line width=1.1pt] (1022,\uy)--(1377,\uy);}
\draw[line width=1.1pt] (1022,123)--(1065,123);
\node[lab=29,anchor=base west] (ct1) at (1022,36) {ては，中央広場の「受験に};
\node[lab=29,anchor=base west] (ct2) at (1022,76) {関する掲示板」に掲示しま};
\node[lab=29,anchor=base west] (ct3) at (1022,116) {す。};

% labels
\node[lab=20] (l1) at (602,32) {保健管理\\センター};
\node[lab=20] (l2) at (690,91) {守衛室};
\node[lab=21] (l3) at (565,170) {事務局};
\node[lab=20] (l4) at (466,151) {車庫};
\node[lab=20] (l5) at (936,165) {信陵公園};
\node[labh=16,align=left] (l6) at (81,289) {食農学類\\研究棟};
\node[labh=16,align=left] (l7) at (160,274) {食農学類\\管理棟};
\node[labh=19] (l8) at (302,292) {行政政策学類};
\node[lab=19] (l9) at (435,292) {経済経営学類};
\node[lab=20] (l10a) at (534,307) {C};
\node[lab=16] (l10) at (534,327) {講義棟};
\node[lab=20] (l11) at (711,333) {大学会館};
\node[lab=16] (l12) at (265,369) {情報基盤\\センター};
\node[labh=16,align=left] (l13) at (351,369) {学生活動\\センター棟};
\node[lab=19] (l14) at (455,383) {S講義棟};
\node[labh=16,align=left] (l15) at (242,432) {学術情報\\メディア棟};
\node[lab=19] (l16) at (457,440) {M講義棟};
\node[lab=19] (l17) at (544,500) {L講義棟};
\node[lab=20] (l18) at (291,505) {附属\\図書館};
\node[labh=13.5] (l19) at (445,559) {人間発達文化学類};
\node[labh=13.5] (l20) at (575,553) {共生システム理工学類\\研究実験棟};
\node[labh=14.6] (l21) at (548,618) {共生システム理工学類};
\node[labh=14] (l22) at (565,667) {\scalebox{.67}[1]{共生システム理工学類後援募金記念棟}};
\node[labh=14.5] (l23) at (636,693) {\scalebox{.85}[1]{学校臨床支援センター}};
\node[labh=13] (l24) at (715,645) {\scalebox{.72}[1]{プレハブユニット棟}};
\node[lab=16] (l25) at (779,690) {保健体育棟};
\node[labh=20] (l26) at (597,783) {美術棟};
\node[labh=20] (l27) at (746,785) {音楽棟};
\node[labh=20] (l28) at (820,791) {理工\\共通棟};
\node[lab=20] (l29) at (715,556) {第1\\体育館};
\node[lab=20] (l30) at (799,578) {プ\\[-1pt]\rotatebox{90}{ー}\\[-1pt]ル};
\node[labh=20] (l31) at (893,412) {文化系\\サークル棟};
\node[labh=20] (l32) at (1015,377) {合宿\\研修所};
\node[lab=20] (l33) at (1088,370) {第2\\体育館};
\node[lab=20] (l34) at (1272,342) {信夫寮};
\node[lab=20] (l35) at (1241,421) {如月寮};
\node[lab=20] (l36) at (1377,421) {葵寮};
\node[labh=20] (l37) at (881,525) {体育系\\サークル棟};
\node[labh=20] (l38) at (985,573) {テニスコート};
\node[labh=21] (l39) at (990,602) {バレーボールコート};
\node[labh=20,align=left,anchor=north west] (l40) at (1109,495) {ハンドボール\\コート};
\node[lab=20,align=left,anchor=north west] (l41) at (1295,522) {サッカー\\ラグビー場};
\node[labh=20] (l42) at (1170,580) {弓道場};
\node[lab=20] (l43) at (1025,766) {陸上競技場};
\node[lab=20] (l44) at (1351,772) {野球場};
\node[labh=20] (l45) at (1273,820) {ゴルフ練習場};
\node[lab=16.5] (l46) at (84,600) {環境放射能\\研究所本棟};
\node[lab=16] (l47) at (175,615) {試料保存棟};
\node[lab=20] (l48) at (132,645) {分析棟};
\node[labh=20] (l49) at (833,1048) {福島大学前\\公園};
\node[labh=20] (l50) at (983,1183) {コンビニ};
\node[lab=20] (l51) at (607,1246) {至福島・仙台};
\node[lab=20] (l52) at (1075,1257) {至郡山・東京};
\node[lab=24] (l53) at (834,1302) {JR金谷川駅};

% central plaza and arrows
\node[draw=black,line width=2.2pt,fill=white,rounded corners=14pt,minimum width=128pt,minimum height=49pt,inner sep=0pt,font=\jp\fontsize{26}{26}\selectfont,text=black] (plaza) at (575.5,381.5) {中央広場};
\coordinate (ar1) at (493,0);
\coordinate (ar2) at (619,175);
\coordinate (tl1) at (1063,144);
\coordinate (tl2) at (1008,306);
\draw[line width=2.2pt,-{Stealth[length=23pt,width=20pt]}] (ar1)--(ar2);
\draw[line width=2.4pt,line join=miter,-{Stealth[length=24pt,width=20pt]}] (tl1)--(tl2)--(plaza.east);
\end{tikzpicture}
\end{document}
